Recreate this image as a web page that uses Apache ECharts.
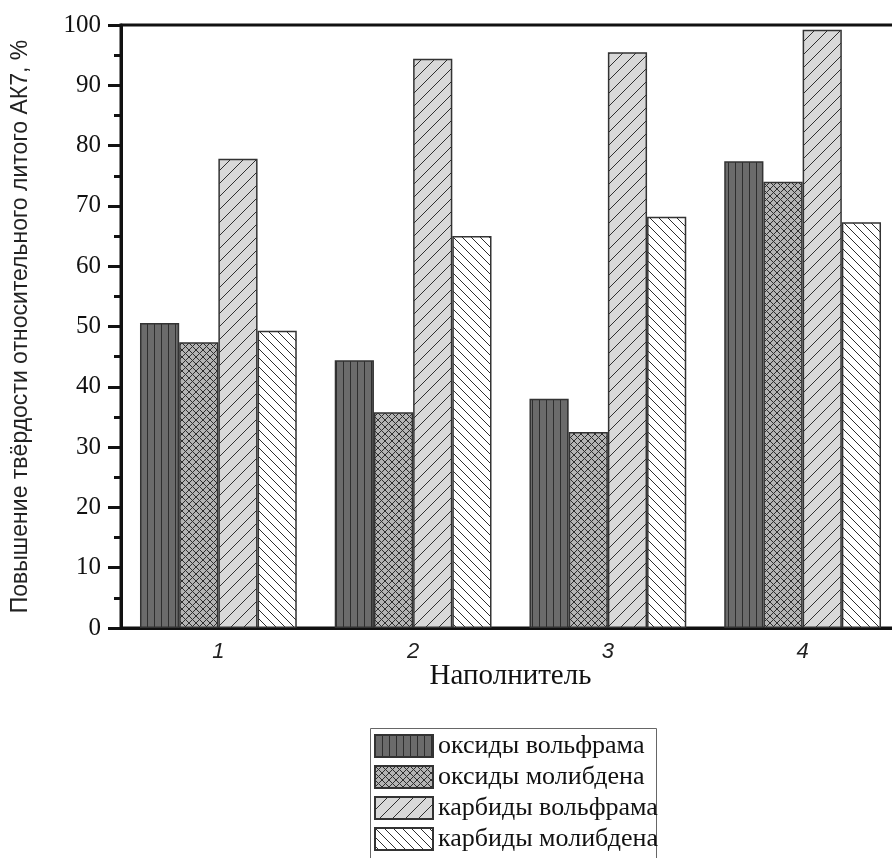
<!DOCTYPE html>
<html><head><meta charset="utf-8">
<script src="https://cdn.jsdelivr.net/npm/echarts@6/dist/echarts.min.js"></script>
<style>html,body{margin:0;padding:0;background:#fff}#c{width:892px;height:858px}</style>
</head><body><div id="c"></div>
<script>
const categories = ['1', '2', '3', '4'];
const seriesNames = ['оксиды вольфрама', 'оксиды молибдена', 'карбиды вольфрама', 'карбиды молибдена'];
const oxW  = [50.6, 44.4, 38.0, 77.4];
const oxMo = [47.4, 35.8, 32.5, 74.0];
const cbW  = [77.8, 94.4, 95.5, 99.2];
const cbMo = [49.3, 65.0, 68.2, 67.3];
const yTicks = [0, 10, 20, 30, 40, 50, 60, 70, 80, 90, 100];
const yAxisTitle = 'Повышение твёрдости относительного литого АК7, %';
const xAxisTitle = 'Наполнитель';

function pattern(w, h, bg, draw) {
  const c = document.createElement('canvas');
  c.width = w; c.height = h;
  const g = c.getContext('2d');
  g.fillStyle = bg; g.fillRect(0, 0, w, h);
  g.strokeStyle = '#2e2e2e'; g.lineWidth = 1;
  draw(g, w, h);
  return { image: c, repeat: 'repeat' };
}
const pVert = pattern(7, 7, '#6b6b6b', (g, w, h) => { g.beginPath(); g.moveTo(0.5, 0); g.lineTo(0.5, h); g.stroke(); });
const pCross = pattern(7, 7, '#b4b4b4', (g, w, h) => {
  g.beginPath();
  g.moveTo(0, 0); g.lineTo(w, h);
  g.moveTo(0, h); g.lineTo(w, 0);
  g.stroke();
});
const pFwd = pattern(13, 13, '#d8d8d8', (g, w, h) => {
  g.beginPath();
  for (const o of [-w, 0, w]) { g.moveTo(o, h); g.lineTo(o + w, 0); }
  g.stroke();
});
const pBack = pattern(9, 9, '#ffffff', (g, w, h) => {
  g.beginPath();
  for (const o of [-w, 0, w]) { g.moveTo(o, 0); g.lineTo(o + w, h); }
  g.stroke();
});

const values = [oxW, oxMo, cbW, cbMo];
const fills = [pVert, pCross, pFwd, pBack];

const chart = echarts.init(document.getElementById('c'), null, { renderer: 'canvas' });
chart.setOption({
  animation: false,
  backgroundColor: '#fff',
  grid: { left: 121, right: -8, top: 25, bottom: 230, show: true, borderColor: '#111', borderWidth: 3,
          containLabel: false, outerBoundsMode: 'none' },
  xAxis: {
    type: 'category', data: categories,
    axisLine: { lineStyle: { color: '#111', width: 3 } },
    axisTick: { show: false },
    axisLabel: { fontFamily: 'Liberation Sans', fontStyle: 'italic', fontSize: 22, color: '#222', margin: 13 },
    name: xAxisTitle, nameLocation: 'middle', nameGap: 34, nameMoveOverlap: false,
    nameTextStyle: { fontFamily: 'Liberation Serif', fontSize: 29, color: '#111' }
  },
  yAxis: {
    type: 'value', min: 0, max: 100, interval: 10,
    axisLine: { show: true, lineStyle: { color: '#111', width: 3 } },
    axisTick: { show: true, length: 13, lineStyle: { color: '#111', width: 3 } },
    minorTick: { show: true, splitNumber: 2, length: 7, lineStyle: { color: '#111', width: 3 } },
    splitLine: { show: false },
    axisLabel: {
      fontFamily: 'Liberation Serif', fontSize: 25, color: '#111', margin: 20,
      formatter: v => (yTicks.includes(v) ? String(v) : '')
    },
    name: yAxisTitle, nameLocation: 'middle', nameGap: 89, nameRotate: 90, nameMoveOverlap: false,
    nameTextStyle: { fontFamily: 'Liberation Sans', fontSize: 23, color: '#222' }
  },
  legend: {
    orient: 'vertical', left: 368, top: 726, height: 200,
    padding: [7, 8, 0, 6], itemGap: 5, itemWidth: 58, itemHeight: 22,
    borderWidth: 0, icon: 'rect',
    textStyle: { fontFamily: 'Liberation Serif', fontSize: 26, color: '#111' },
    data: seriesNames
  },
  graphic: [{
    type: 'rect', left: 368, top: 726, silent: true,
    shape: { width: 286, height: 150 },
    style: { fill: 'none', stroke: '#666', lineWidth: 1 }
  }],
  series: seriesNames.map((n, i) => ({
    name: n, type: 'bar', data: values[i],
    barGap: '0%', barCategoryGap: '19.5%',
    itemStyle: { color: fills[i], borderColor: '#333', borderWidth: 1.5 }
  }))
});
</script></body></html>
